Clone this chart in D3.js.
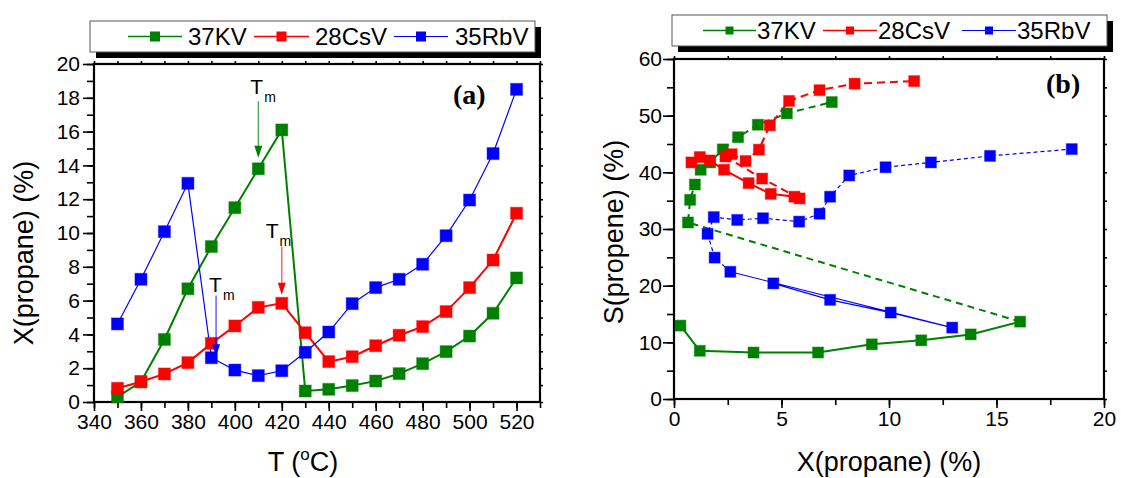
<!DOCTYPE html>
<html><head><meta charset="utf-8">
<script src="https://cdn.jsdelivr.net/npm/d3@7"></script>
<style>
body{margin:0;background:#fff}
svg{display:block}
text{font-family:Arial,"Liberation Sans",sans-serif;fill:#000}
</style>
</head><body>
<svg id="c" width="1121" height="478"></svg>
<script>
// ---------- DATA ----------
const seriesNames = ["37KV", "28CsV", "35RbV"];
const temps = [350,360,370,380,390,400,410,420,430,440,450,460,470,480,490,500,510,520];
// X(propane) (%) vs T
const xKV  = [0.3,1.2,3.7,6.7,9.2,11.5,13.8,16.1,0.65,0.75,0.97,1.24,1.68,2.27,2.98,3.9,5.25,7.34];
const xCsV = [0.81,1.2,1.66,2.33,3.47,4.5,5.6,5.84,4.1,2.39,2.68,3.33,3.95,4.46,5.35,6.77,8.4,11.17];
const xRbV = [4.62,7.26,10.08,12.94,2.62,1.89,1.56,1.85,2.94,4.14,5.82,6.77,7.26,8.15,9.84,11.95,14.7,18.5];
// S(propene) (%) at the same temperatures
const sKV  = [12.95,8.5,8.2,8.2,9.65,10.35,11.4,13.65,31.15,35.15,37.85,40.45,41.75,44.05,46.2,48.4,50.4,52.4];
const sCsV = [41.75,42.7,42.1,40.45,38.1,36.2,35.7,35.4,38.9,42.8,43.2,42.0,44.0,48.3,52.6,54.5,55.65,56.1];
const sRbV = [20.4,17.5,15.25,12.6,22.45,24.95,29.15,32.1,31.6,31.9,31.3,32.7,35.7,39.45,40.9,41.75,42.9,44.1];
// index where panel (b) line turns dashed
const dashFrom = [7, 7, 4];
// ticks
const aXTicks = [340,360,380,400,420,440,460,480,500,520];
const aYTicks = [0,2,4,6,8,10,12,14,16,18,20];
const bXTicks = [0,5,10,15,20];
const bYTicks = [0,10,20,30,40,50,60];
// T_m annotations: [series, T, arrow top value, arrow tip value]
const tmNotes = [[0,410,17.8,14.45],[1,420,9.2,6.35],[2,392,6.3,2.7]];

// ---------- STYLE ----------
const colors = ["#008000","#ff0000","#0000ff"];
const widths = [2,2,1.2];
const dashes = ["7,5","8,5","4,3"];
const svg = d3.select("#c");

const A = {x: d3.scaleLinear().domain([340,530]).range([94,540]),
           y: d3.scaleLinear().domain([0,20]).range([402,64]), pad: 3};
const B = {x: d3.scaleLinear().domain([0,20]).range([674,1104]),
           y: d3.scaleLinear().domain([0,60]).range([399,59]), pad: 1};

function axes(P, xMaj, xMin, yMaj, yMin) {
  const g = svg.append("g");
  const [x0,x1] = P.x.range(), [y0,y1] = P.y.range();
  const mk = (ax, vals, size, lab, pad) => ax.tickValues(vals).tickSize(size).tickSizeOuter(0)
      .tickPadding(pad).tickFormat(lab ? d3.format("d") : "");
  const add = (axis, tr) => {
    const a = g.append("g").attr("transform", tr).call(axis);
    a.select(".domain").remove();
    a.selectAll("line").attr("stroke","#000").attr("stroke-width",1.6);
    a.selectAll("text").style("font-size","21px").attr("fill","#000");
    return a;
  };
  add(mk(d3.axisBottom(P.x), xMin, 6, false, 3), `translate(0,${y0})`);
  add(mk(d3.axisBottom(P.x), xMaj, 9, true, 3), `translate(0,${y0})`);
  add(mk(d3.axisLeft(P.y), yMin, 7, false, 3), `translate(${x0},0)`);
  add(mk(d3.axisLeft(P.y), yMaj, 11, true, P.pad), `translate(${x0},0)`);
  add(mk(d3.axisTop(P.x), xMin, 3, false, 3), `translate(0,${y1})`);
  add(mk(d3.axisRight(P.y), yMin, 3, false, 3), `translate(${x1},0)`);
  g.append("rect").attr("x",x0).attr("y",y1).attr("width",x1-x0).attr("height",y0-y1)
    .attr("fill","none").attr("stroke","#000").attr("stroke-width",2.2);
}

function markers(g, pts, color, s) {
  g.selectAll(null).data(pts).enter().append("rect")
    .attr("x", d => d[0]-s/2).attr("y", d => d[1]-s/2)
    .attr("width", s).attr("height", s)
    .attr("fill", color).attr("stroke", color).attr("stroke-opacity",0.35).attr("stroke-width",1.2);
}

function legend(x, y, w, h, items, fs, ms) {
  const g = svg.append("g");
  g.append("rect").attr("x",x+6).attr("y",y+6).attr("width",w).attr("height",h).attr("fill","#000");
  g.append("rect").attr("x",x).attr("y",y).attr("width",w).attr("height",h)
    .attr("fill","#fff").attr("stroke","#555").attr("stroke-width",1);
  items.forEach(([lx0,lx1,tx],i) => {
    const cy = y + h/2;
    g.append("line").attr("x1",lx0).attr("x2",lx1).attr("y1",cy).attr("y2",cy)
      .attr("stroke",colors[i]).attr("stroke-width",i===2?1:1.6);
    g.append("rect").attr("x",(lx0+lx1)/2-ms/2).attr("y",cy-ms/2).attr("width",ms).attr("height",ms)
      .attr("fill",colors[i]);
    g.append("text").attr("x",tx).attr("y",cy).attr("dy","0.36em")
      .style("font-size",fs+"px").text(seriesNames[i]);
  });
}

// ---------- PANEL A ----------
axes(A, aXTicks, d3.range(340,531,10), aYTicks, d3.range(0,21,1));
const aData = [xKV, xCsV, xRbV];
const ga = svg.append("g");
aData.forEach((vals,i) => {
  const pts = temps.map((t,k) => [A.x(t), A.y(vals[k])]);
  ga.append("path").attr("d", d3.line()(pts)).attr("fill","none")
    .attr("stroke",colors[i]).attr("stroke-width",widths[i]);
});
aData.forEach((vals,i) => {
  markers(ga, temps.map((t,k) => [A.x(t), A.y(vals[k])]), colors[i], 12);
});
// T_m annotations
const tOff = [[-8,-7.5],[-16,-8.5],[-7,-4]];
tmNotes.forEach(([s,t,top,tip],j) => {
  const x = A.x(t), y0 = A.y(top), y1 = A.y(tip);
  ga.append("line").attr("x1",x).attr("x2",x).attr("y1",y0).attr("y2",y1-10)
    .attr("stroke",colors[s]).attr("stroke-width",1.3).attr("stroke-opacity",0.7);
  ga.append("path").attr("d",`M${x-4},${y1-12} L${x+4},${y1-12} L${x},${y1} Z`).attr("fill",colors[s]);
  const tx = ga.append("text").attr("x",x+tOff[j][0]).attr("y",y0+tOff[j][1])
    .style("font-size","21px").attr("fill",colors[s]);
  tx.append("tspan").text("T");
  tx.append("tspan").attr("dy",8).attr("dx",1).style("font-size","14px").text("m");
});
svg.append("text").attr("x",453).attr("y",104)
  .style("font-family","'Liberation Serif','Times New Roman',serif")
  .style("font-weight","bold").style("font-size","28px").text("(a)");
// axis titles
svg.append("text").attr("transform","translate(33,253) rotate(-90)").attr("text-anchor","middle")
  .style("font-size","27px").text("X(propane) (%)");
const tt = svg.append("text").attr("x",303).attr("y",471).attr("text-anchor","middle").style("font-size","27px");
tt.append("tspan").text("T (");
tt.append("tspan").attr("dy",-11).style("font-size","17px").text("o");
tt.append("tspan").attr("dy",11).text("C)");
legend(90, 21, 445, 31, [[128,182,188],[254,309,315],[394,448,455]], 24, 10);

// ---------- PANEL B ----------
axes(B, bXTicks, d3.range(0,20.1,2.5), bYTicks, d3.range(0,61,5));
const bX = [xKV, xCsV, xRbV], bS = [sKV, sCsV, sRbV];
const gb = svg.append("g");
bX.forEach((xs,i) => {
  const pts = xs.map((v,k) => [B.x(v), B.y(bS[i][k])]);
  gb.append("path").attr("d", d3.line()(pts.slice(0, dashFrom[i]+1))).attr("fill","none")
    .attr("stroke",colors[i]).attr("stroke-width",widths[i]);
  gb.append("path").attr("d", d3.line()(pts.slice(dashFrom[i]))).attr("fill","none")
    .attr("stroke",colors[i]).attr("stroke-width",widths[i]).attr("stroke-dasharray",dashes[i]);
});
bX.forEach((xs,i) => {
  markers(gb, xs.map((v,k) => [B.x(v), B.y(bS[i][k])]), colors[i], 11);
});
svg.append("text").attr("x",1046).attr("y",93)
  .style("font-family","'Liberation Serif','Times New Roman',serif")
  .style("font-weight","bold").style("font-size","28px").text("(b)");
svg.append("text").attr("transform","translate(623,232) rotate(-90)").attr("text-anchor","middle")
  .style("font-size","27px").text("S(propene) (%)");
svg.append("text").attr("x",889).attr("y",471).attr("text-anchor","middle")
  .style("font-size","27px").text("X(propane) (%)");
legend(672, 15, 435, 31, [[703,756,757],[823,877,878],[962,1016,1017]], 24, 8);
</script>
</body></html>
